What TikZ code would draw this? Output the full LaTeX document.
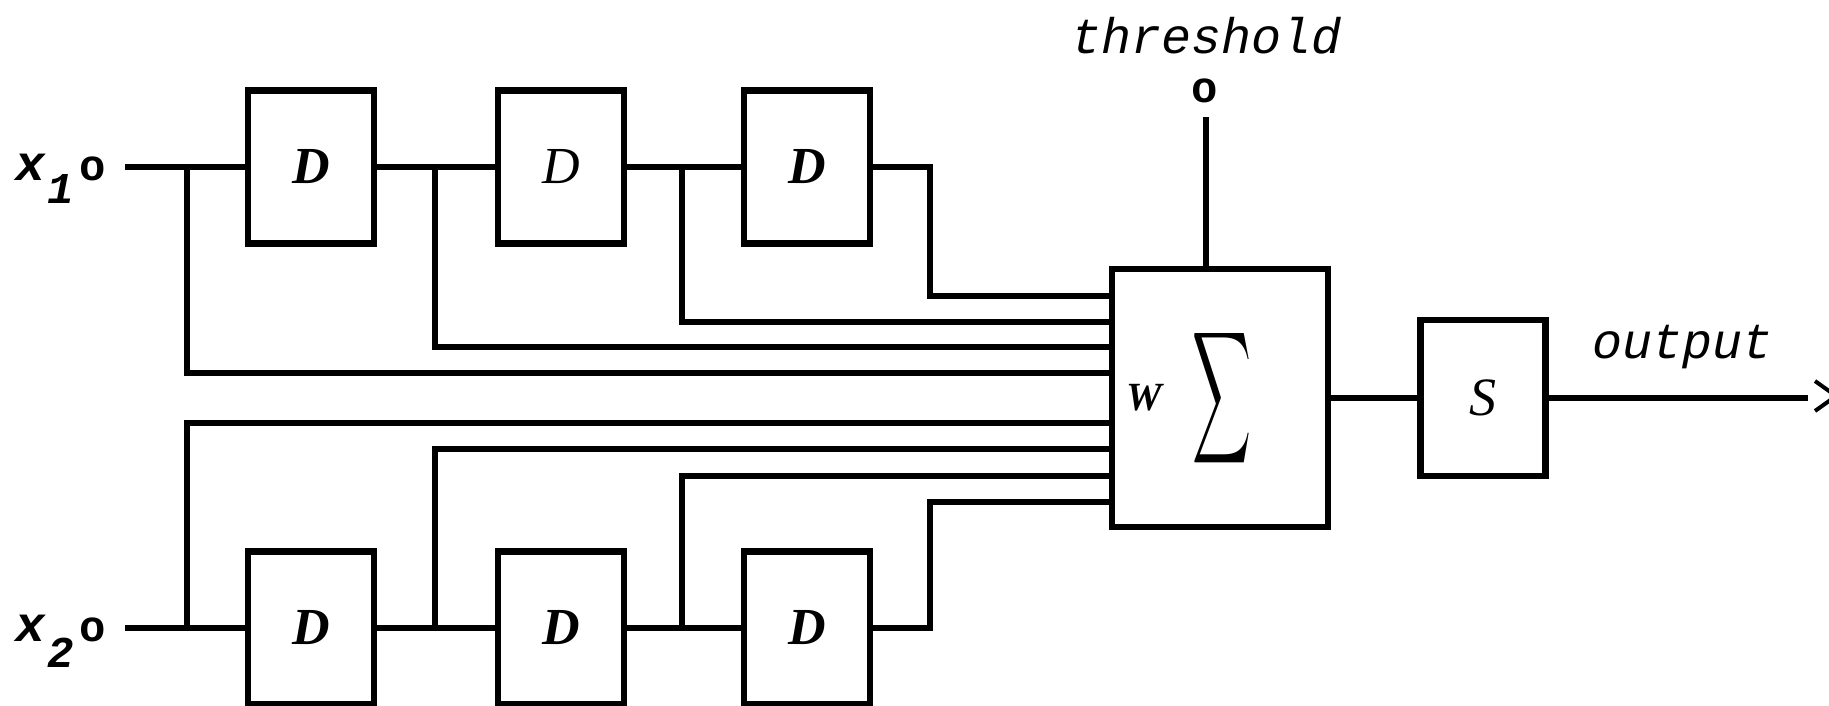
\documentclass[tikz,border=0pt]{standalone}
\usepackage{fontspec}
\setmainfont{Liberation Serif}
\newfontfamily\monofont{Liberation Mono}
\begin{document}
\begin{tikzpicture}[x=1pt,y=-1pt,
  wire/.style={line width=5.5pt, line join=miter},
  dbox/.style={draw, line width=6.5pt, minimum width=126pt, minimum height=153pt, inner sep=0pt,
    font=\fontsize{52}{54}\selectfont\itshape\bfseries},
  dboxlight/.style={dbox, font=\fontsize{52}{54}\selectfont\itshape},
  tlabel/.style={inner sep=0pt, font=\fontsize{50}{52}\selectfont\monofont\itshape},
  term/.style={inner sep=0pt, font=\fontsize{44}{46}\selectfont\monofont\bfseries},
  xlab/.style={inner sep=0pt, font=\fontsize{50}{52}\selectfont\monofont\itshape\bfseries},
  sublab/.style={inner sep=0pt, font=\fontsize{44}{46}\selectfont\monofont\itshape\bfseries}]
\useasboundingbox (0,0) rectangle (1829,705);
% input labels
\node[xlab, anchor=base] (x1) at (31,180) {x};
\node[sublab, anchor=base] (x1s) at (61,203) {1};
\node[term, anchor=base] (x1o) at (93,180) {o};
\node[xlab, anchor=base] (x2) at (31,641) {x};
\node[sublab, anchor=base] (x2s) at (61,667) {2};
\node[term, anchor=base] (x2o) at (93,641) {o};
% delay boxes
\node[dbox] (d11) at (311,167) {D};
\node[dboxlight] (d12) at (561,167) {D};
\node[dbox] (d13) at (807,167) {D};
\node[dbox] (d21) at (311,628) {D};
\node[dbox] (d22) at (561,628) {D};
\node[dbox] (d23) at (807,628) {D};
% sum box
\node[draw, line width=6.5pt, minimum width=216pt, minimum height=258pt] (sum) at (1220,398) {};
\node[inner sep=0pt, font=\fontsize{40}{42}\selectfont\itshape\bfseries] (w) at (1144,398) {W};
\node[inner sep=0pt] (sig) at (1222,398) {\resizebox{59pt}{97pt}{$\displaystyle\sum$}};
% threshold
\node[tlabel, anchor=base] (thr) at (1207,53) {threshold};
\node[term, anchor=base] (tho) at (1205,102) {o};
\coordinate (thin) at (1206,117);
\draw[wire] (thin) -- (thin |- sum.north);
% S box
\node[draw, line width=6.5pt, minimum width=125pt, minimum height=156pt, inner sep=0pt,
  font=\fontsize{54}{56}\selectfont\itshape] (sbox) at (1483,398) {S};
\node[tlabel, anchor=base] (out) at (1682,358) {output};
% junction coordinates
\coordinate (in1) at (125,167);
\coordinate (in2) at (125,628);
\coordinate (j11) at (187,167);
\coordinate (j12) at (435,167);
\coordinate (j13) at (682,167);
\coordinate (j21) at (187,628);
\coordinate (j22) at (435,628);
\coordinate (j23) at (682,628);
% top chain
\draw[wire] (in1) -- (d11.west);
\draw[wire] (d11.east) -- (d12.west);
\draw[wire] (d12.east) -- (d13.west);
\draw[wire] (d13.east) -- (930,167) |- (sum.west |- 0,296);
\draw[wire] (j13) |- (sum.west |- 0,322);
\draw[wire] (j12) |- (sum.west |- 0,347);
\draw[wire] (j11) |- (sum.west |- 0,373);
% bottom chain
\draw[wire] (in2) -- (d21.west);
\draw[wire] (d21.east) -- (d22.west);
\draw[wire] (d22.east) -- (d23.west);
\draw[wire] (j21) |- (sum.west |- 0,423);
\draw[wire] (j22) |- (sum.west |- 0,449);
\draw[wire] (j23) |- (sum.west |- 0,476);
\draw[wire] (d23.east) -- (930,628) |- (sum.west |- 0,502);
% output
\draw[wire] (sum.east) -- (sbox.west);
\coordinate (oend) at (1808,398);
\draw[wire] (sbox.east) -- (oend);
\draw[line width=4pt, line join=miter] (1815,381) -- (1836,396) -- (1815,411);
\end{tikzpicture}
\end{document}
